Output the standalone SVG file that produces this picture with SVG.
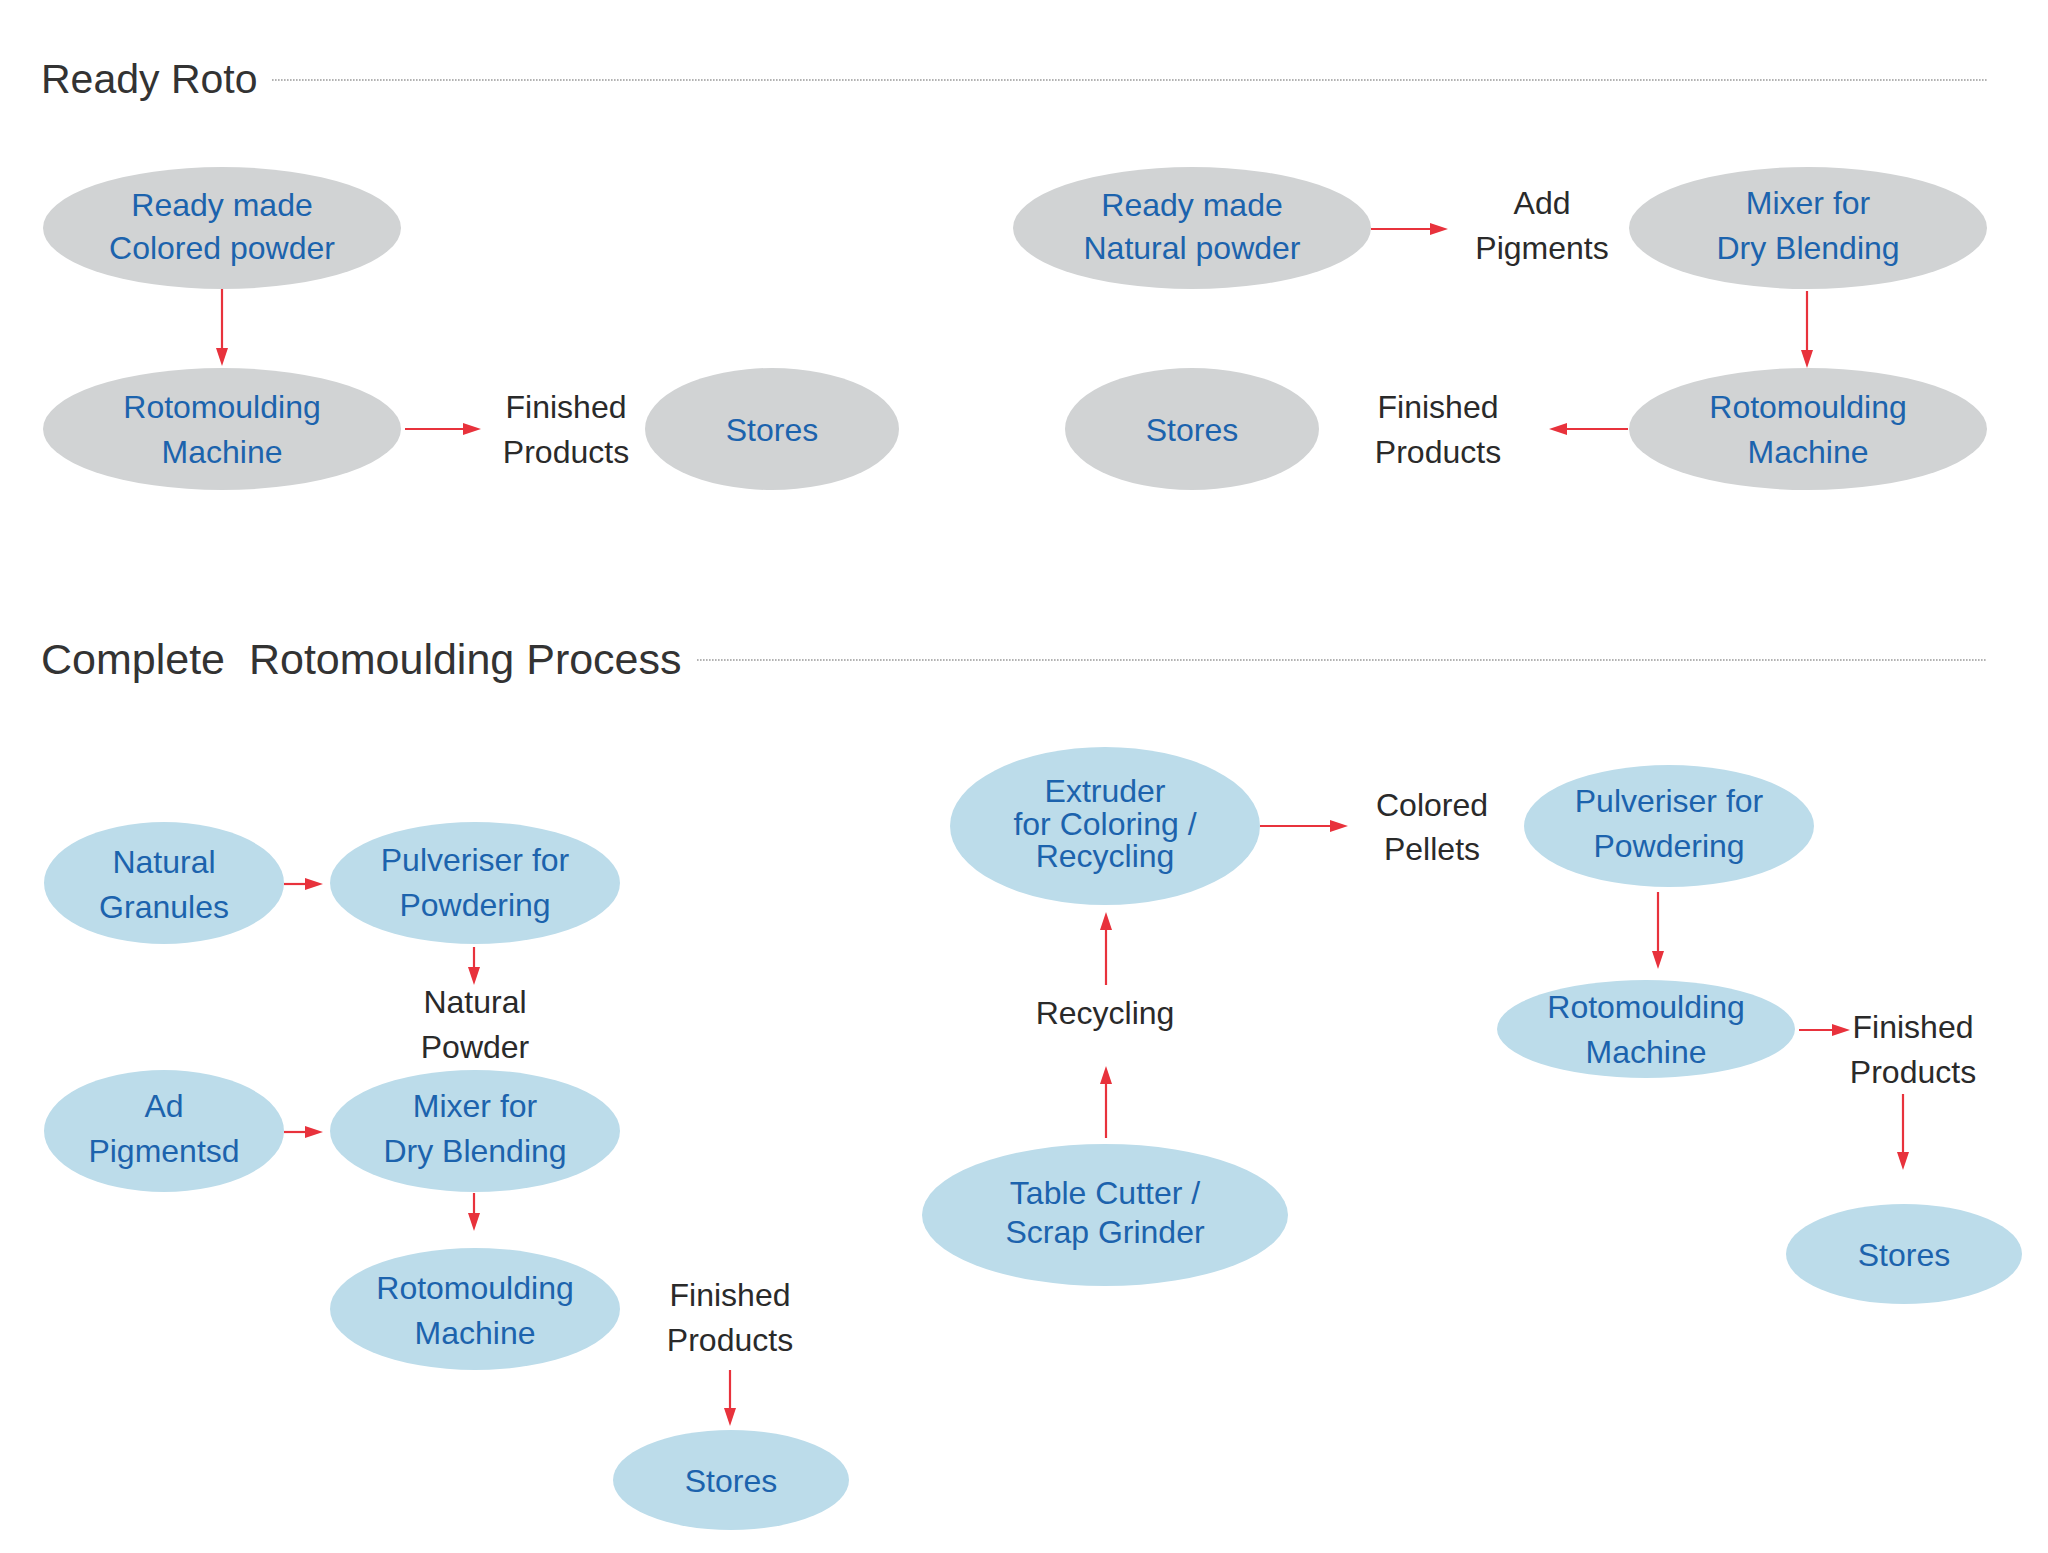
<svg xmlns="http://www.w3.org/2000/svg" width="2048" height="1553" viewBox="0 0 2048 1553">
<style>
  .title { font-family: "Liberation Sans", Arial, sans-serif; font-size: 43px; fill: #333333; }
  .rule { stroke: #9a9a9a; stroke-width: 1.6; stroke-dasharray: 1.6 1.4; fill: none; }
  .g { fill: #d1d3d4; }
  .b { fill: #bcdcea; }
  .nt { font-family: "Liberation Sans", Arial, sans-serif; font-size: 32px; fill: #1c63ad; text-anchor: middle; }
  .lt { font-family: "Liberation Sans", Arial, sans-serif; font-size: 32px; fill: #2a2a2a; text-anchor: middle; }
  .c { stroke: #e8323c; stroke-width: 2.2; fill: none; marker-end: url(#ah); }
</style>
<defs>
  <marker id="ah" markerUnits="userSpaceOnUse" markerWidth="20" markerHeight="14" refX="6" refY="6" orient="auto">
    <path d="M0,0 L18,6 L0,12 z" fill="#e8323c"/>
  </marker>
</defs>
<rect width="2048" height="1553" fill="#ffffff"/>

<!-- Section headers -->
<g id="header-ready-roto">
  <text class="title" x="41" y="93" style="font-size:41px">Ready Roto</text>
  <line class="rule" x1="272" y1="80" x2="1987" y2="80"/>
</g>
<g id="header-complete">
  <text class="title" x="41" y="674" xml:space="preserve">Complete  Rotomoulding Process</text>
  <line class="rule" x1="697" y1="660" x2="1987" y2="660"/>
</g>

<!-- Section 1 left -->
<g id="rr-colored-powder">
  <ellipse class="g" cx="222" cy="228" rx="179" ry="61"/>
  <text class="nt" x="222" y="216">Ready made</text>
  <text class="nt" x="222" y="259">Colored powder</text>
</g>
<g id="rr-roto-left">
  <ellipse class="g" cx="222" cy="429" rx="179" ry="61"/>
  <text class="nt" x="222" y="418">Rotomoulding</text>
  <text class="nt" x="222" y="463">Machine</text>
</g>
<g id="rr-finished-left">
  <text class="lt" x="566" y="418">Finished</text>
  <text class="lt" x="566" y="463">Products</text>
</g>
<g id="rr-stores-left">
  <ellipse class="g" cx="772" cy="429" rx="127" ry="61"/>
  <text class="nt" x="772" y="441">Stores</text>
</g>

<!-- Section 1 right -->
<g id="rr-natural-powder">
  <ellipse class="g" cx="1192" cy="228" rx="179" ry="61"/>
  <text class="nt" x="1192" y="216">Ready made</text>
  <text class="nt" x="1192" y="259">Natural powder</text>
</g>
<g id="rr-add-pigments">
  <text class="lt" x="1542" y="214">Add</text>
  <text class="lt" x="1542" y="259">Pigments</text>
</g>
<g id="rr-mixer">
  <ellipse class="g" cx="1808" cy="228" rx="179" ry="61"/>
  <text class="nt" x="1808" y="214">Mixer for</text>
  <text class="nt" x="1808" y="259">Dry Blending</text>
</g>
<g id="rr-roto-right">
  <ellipse class="g" cx="1808" cy="429" rx="179" ry="61"/>
  <text class="nt" x="1808" y="418">Rotomoulding</text>
  <text class="nt" x="1808" y="463">Machine</text>
</g>
<g id="rr-finished-right">
  <text class="lt" x="1438" y="418">Finished</text>
  <text class="lt" x="1438" y="463">Products</text>
</g>
<g id="rr-stores-right">
  <ellipse class="g" cx="1192" cy="429" rx="127" ry="61"/>
  <text class="nt" x="1192" y="441">Stores</text>
</g>

<!-- Section 2 left -->
<g id="cp-natural-granules">
  <ellipse class="b" cx="164" cy="883" rx="120" ry="61"/>
  <text class="nt" x="164" y="873">Natural</text>
  <text class="nt" x="164" y="918">Granules</text>
</g>
<g id="cp-pulveriser-left">
  <ellipse class="b" cx="475" cy="883" rx="145" ry="61"/>
  <text class="nt" x="475" y="871">Pulveriser for</text>
  <text class="nt" x="475" y="916">Powdering</text>
</g>
<g id="cp-natural-powder">
  <text class="lt" x="475" y="1013">Natural</text>
  <text class="lt" x="475" y="1058">Powder</text>
</g>
<g id="cp-ad-pigments">
  <ellipse class="b" cx="164" cy="1131" rx="120" ry="61"/>
  <text class="nt" x="164" y="1117">Ad</text>
  <text class="nt" x="164" y="1162">Pigmentsd</text>
</g>
<g id="cp-mixer">
  <ellipse class="b" cx="475" cy="1131" rx="145" ry="61"/>
  <text class="nt" x="475" y="1117">Mixer for</text>
  <text class="nt" x="475" y="1162">Dry Blending</text>
</g>
<g id="cp-roto-left">
  <ellipse class="b" cx="475" cy="1309" rx="145" ry="61"/>
  <text class="nt" x="475" y="1299">Rotomoulding</text>
  <text class="nt" x="475" y="1344">Machine</text>
</g>
<g id="cp-finished-left">
  <text class="lt" x="730" y="1306">Finished</text>
  <text class="lt" x="730" y="1351">Products</text>
</g>
<g id="cp-stores-left">
  <ellipse class="b" cx="731" cy="1480" rx="118" ry="50"/>
  <text class="nt" x="731" y="1492">Stores</text>
</g>

<!-- Section 2 right -->
<g id="cp-extruder">
  <ellipse class="b" cx="1105" cy="826" rx="155" ry="79"/>
  <text class="nt" x="1105" y="802">Extruder</text>
  <text class="nt" x="1105" y="835">for Coloring /</text>
  <text class="nt" x="1105" y="867">Recycling</text>
</g>
<g id="cp-colored-pellets">
  <text class="lt" x="1432" y="816">Colored</text>
  <text class="lt" x="1432" y="860">Pellets</text>
</g>
<g id="cp-pulveriser-right">
  <ellipse class="b" cx="1669" cy="826" rx="145" ry="61"/>
  <text class="nt" x="1669" y="812">Pulveriser for</text>
  <text class="nt" x="1669" y="857">Powdering</text>
</g>
<g id="cp-roto-right">
  <ellipse class="b" cx="1646" cy="1029" rx="149" ry="49"/>
  <text class="nt" x="1646" y="1018">Rotomoulding</text>
  <text class="nt" x="1646" y="1063">Machine</text>
</g>
<g id="cp-finished-right">
  <text class="lt" x="1913" y="1038">Finished</text>
  <text class="lt" x="1913" y="1083">Products</text>
</g>
<g id="cp-stores-right">
  <ellipse class="b" cx="1904" cy="1254" rx="118" ry="50"/>
  <text class="nt" x="1904" y="1266">Stores</text>
</g>
<g id="cp-recycling">
  <text class="lt" x="1105" y="1024">Recycling</text>
</g>
<g id="cp-table-cutter">
  <ellipse class="b" cx="1105" cy="1215" rx="183" ry="71"/>
  <text class="nt" x="1105" y="1204">Table Cutter /</text>
  <text class="nt" x="1105" y="1243">Scrap Grinder</text>
</g>

<!-- Connectors -->
<g id="connectors">
  <line class="c" x1="222" y1="289" x2="222" y2="354"/>
  <line class="c" x1="405" y1="429" x2="469" y2="429"/>
  <line class="c" x1="1371" y1="229" x2="1436" y2="229"/>
  <line class="c" x1="1807" y1="291" x2="1807" y2="356"/>
  <line class="c" x1="1628" y1="429" x2="1561" y2="429"/>

  <line class="c" x1="284" y1="884" x2="311" y2="884"/>
  <line class="c" x1="474" y1="947" x2="474" y2="973"/>
  <line class="c" x1="284" y1="1132" x2="311" y2="1132"/>
  <line class="c" x1="474" y1="1193" x2="474" y2="1219"/>
  <line class="c" x1="730" y1="1370" x2="730" y2="1414"/>

  <line class="c" x1="1260" y1="826" x2="1336" y2="826"/>
  <line class="c" x1="1106" y1="1138" x2="1106" y2="1078"/>
  <line class="c" x1="1106" y1="985" x2="1106" y2="924"/>
  <line class="c" x1="1658" y1="892" x2="1658" y2="957"/>
  <line class="c" x1="1799" y1="1030" x2="1838" y2="1030"/>
  <line class="c" x1="1903" y1="1094" x2="1903" y2="1158"/>
</g>
</svg>
